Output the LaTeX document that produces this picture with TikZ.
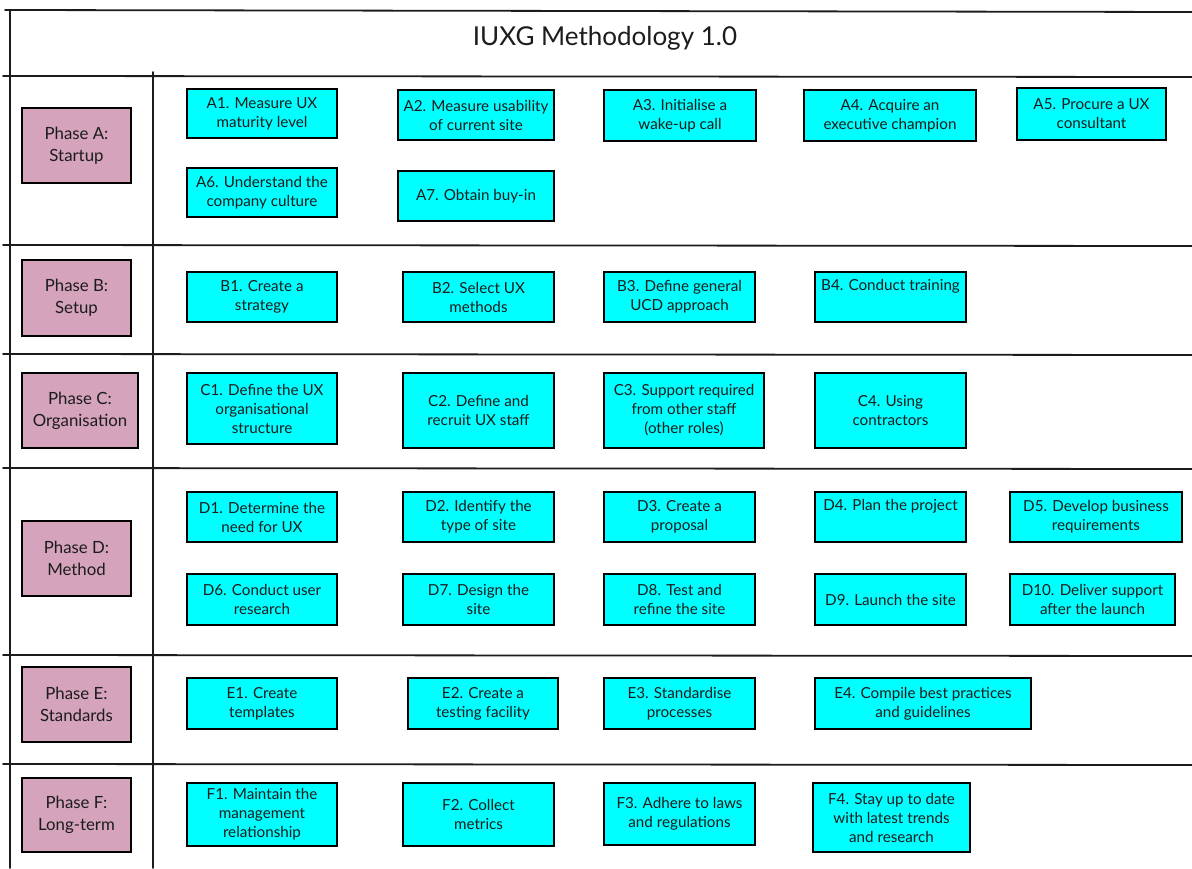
\documentclass[tikz,border=0pt]{standalone}
\usepackage{fontspec}
\setmainfont{Lato}
\definecolor{boxcyan}{RGB}{0,255,255}
\definecolor{phasepink}{RGB}{213,163,188}
\definecolor{ink}{RGB}{28,28,28}

% task box given by its corners (x1,y1) and (x2,y2)
\newcommand\mkTask[6]{%
  \node[taskbox, minimum width={(#4-#2)*1pt}, minimum height={(#5-#3)*1pt}]
    (#1) at ({(#2+#4)/2},{(#3+#5)/2}) {#6};}
% task box with its text set near the top edge
\newcommand\mkTaskTop[6]{%
  \node[taskbox, minimum width={(#4-#2)*1pt}, minimum height={(#5-#3)*1pt}]
    (#1) at ({(#2+#4)/2},{(#3+#5)/2}) {};
  \node[tasktext, anchor=north] (#1t) at ([yshift=-8pt]#1.north) {#6};}
\newcommand\mkPhase[6]{%
  \node[phasebox, minimum width={(#4-#2)*1pt}, minimum height={(#5-#3)*1pt}]
    (#1) at ({(#2+#4)/2},{(#3+#5)/2}) {#6};}

\begin{document}
\begin{tikzpicture}[x=1pt,y=-1pt,
  gridline/.style={line width=1.8pt, draw=ink, line cap=round},
  tasktext/.style={inner sep=0pt, align=center, text=ink,
    font=\fontsize{15.2}{19}\selectfont},
  taskbox/.style={tasktext, draw=black, line width=2pt, fill=boxcyan},
  phasebox/.style={taskbox, fill=phasepink, font=\fontsize{16.8}{22}\selectfont}]
\useasboundingbox (0,0) rectangle (1192,869);
\fill[white] (0,0) rectangle (1192,869);

% frame and grid
\coordinate (tl) at (5,10);   \coordinate (tr) at (1192,12);
\coordinate (hl) at (3,76);   \coordinate (hr) at (1192,77);
\draw[gridline] (tl) -- (tr);
\draw[gridline] (hl) -- (hr);
\coordinate (vl0) at (10,10);  \coordinate (vl1) at (10,868);
\coordinate (vc0) at (153,72); \coordinate (vc1) at (153,868);
\draw[gridline] (vl0) -- (vl1);
\draw[gridline] (vc0) -- (vc1);
\foreach \y [count=\i] in {245,354,468,655,764} {
  \coordinate (rl\i) at (3,\y);
  \coordinate (rr\i) at (1192,\y+1);
  \draw[gridline] (rl\i) -- (rr\i);
}

\node[font=\fontsize{26}{30}\selectfont, text=ink] (title) at (605,38) {IUXG Methodology 1.0};

% phases
\mkPhase{PA}{22}{108}{131}{183}{Phase A:\\Startup}
\mkPhase{PB}{22}{260}{131}{336}{Phase B:\\Setup}
\mkPhase{PC}{22}{373}{138}{448}{Phase C:\\Organisation}
\mkPhase{PD}{22}{521}{131}{596}{Phase D:\\Method}
\mkPhase{PE}{22}{667}{131}{742}{Phase E:\\Standards}
\mkPhase{PF}{22}{778}{131}{852}{Phase F:\\Long-term}

% phase A
\mkTask{A1}{187}{89}{337}{138}{A1. Measure UX\\maturity level}
\mkTask{A2}{398}{90}{554}{140}{A2. Measure usability\\of current site}
\mkTask{A3}{604}{90}{756}{141}{A3. Initialise a\\wake-up call}
\mkTask{A4}{804}{90}{976}{141}{A4. Acquire an\\executive champion}
\mkTask{A5}{1017}{88}{1166}{140}{A5. Procure a UX\\consultant}
\mkTask{A6}{187}{168}{337}{217}{A6. Understand the\\company culture}
\mkTask{A7}{398}{171}{554}{221}{A7. Obtain buy-in}

% phase B
\mkTask{B1}{187}{272}{337}{322}{B1. Create a\\strategy}
\mkTask{B2}{403}{272}{554}{322}{B2. Select UX\\methods}
\mkTask{B3}{604}{272}{755}{322}{B3. Define general\\UCD approach}
\mkTaskTop{B4}{815}{272}{966}{322}{B4. Conduct training}

% phase C
\mkTask{C1}{187}{373}{337}{444}{C1. Define the UX\\organisational\\structure}
\mkTask{C2}{403}{373}{554}{448}{C2. Define and\\recruit UX staff}
\mkTask{C3}{604}{373}{764}{448}{C3. Support required\\from other staff\\(other roles)}
\mkTask{C4}{815}{373}{966}{448}{C4. Using\\contractors}

% phase D
\mkTask{D1}{187}{492}{337}{542}{D1. Determine the\\need for UX}
\mkTask{D2}{403}{492}{554}{542}{D2. Identify the\\type of site}
\mkTask{D3}{604}{492}{755}{542}{D3. Create a\\proposal}
\mkTaskTop{D4}{815}{492}{966}{542}{D4. Plan the project}
\mkTask{D5}{1010}{492}{1182}{542}{D5. Develop business\\requirements}
\mkTask{D6}{187}{574}{337}{625}{D6. Conduct user\\research}
\mkTask{D7}{403}{574}{554}{625}{D7. Design the\\site}
\mkTask{D8}{604}{574}{755}{625}{D8. Test and\\refine the site}
\mkTask{D9}{815}{574}{966}{625}{D9. Launch the site}
\mkTask{D10}{1010}{574}{1175}{625}{D10. Deliver support\\after the launch}

% phase E
\mkTask{E1}{187}{678}{337}{729}{E1. Create\\templates}
\mkTask{E2}{408}{678}{558}{729}{E2. Create a\\testing facility}
\mkTask{E3}{604}{678}{755}{729}{E3. Standardise\\processes}
\mkTask{E4}{815}{678}{1031}{729}{E4. Compile best practices\\and guidelines}

% phase F
\mkTask{F1}{187}{783}{337}{846}{F1. Maintain the\\management\\relationship}
\mkTask{F2}{403}{783}{554}{846}{F2. Collect\\metrics}
\mkTask{F3}{604}{783}{755}{845}{F3. Adhere to laws\\and regulations}
\mkTask{F4}{813}{783}{970}{852}{F4. Stay up to date\\with latest trends\\and research}
\end{tikzpicture}
\end{document}
